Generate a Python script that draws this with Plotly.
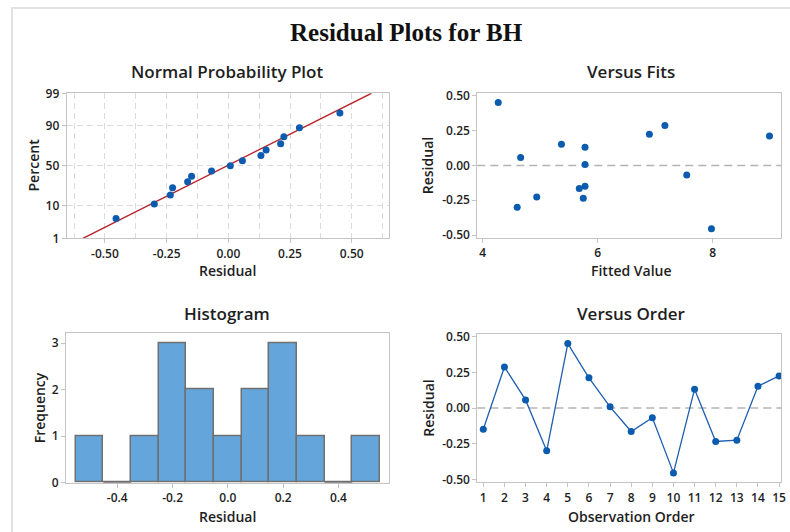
import numpy as np
import plotly.graph_objects as go
from statistics import NormalDist

# ---------------- data ----------------
observation = list(range(1, 16))
residuals = [-0.149, 0.288, 0.057, -0.300, 0.452, 0.212, 0.008, -0.165,
             -0.068, -0.455, 0.132, -0.235, -0.226, 0.153, 0.225]
fitted = [5.78, 7.17, 4.66, 4.60, 4.27, 8.99, 5.78, 5.68,
          7.55, 7.98, 5.78, 5.75, 4.94, 5.37, 6.90]
prob_ticks = [1, 10, 50, 90, 99]
hist_edges = [-0.55, -0.45, -0.35, -0.25, -0.15, -0.05, 0.05, 0.15, 0.25, 0.35, 0.45, 0.55]

# ---------------- derived quantities ----------------
nd = NormalDist()
n = len(residuals)
sorted_res = sorted(residuals)
# Benard median ranks for the normal probability plot
z_pts = [nd.inv_cdf((i + 1 - 0.3) / (n + 0.4)) for i in range(n)]
mu = float(np.mean(residuals))
sd = float(np.std(residuals, ddof=1))
z_lo, z_hi = nd.inv_cdf(0.01), nd.inv_cdf(0.99)
line_z = [z_lo, z_hi]
line_x = [mu + sd * z for z in line_z]
prob_tickvals = [nd.inv_cdf(p / 100) for p in prob_ticks]

counts, _ = np.histogram(residuals, bins=hist_edges)
centers = [(hist_edges[i] + hist_edges[i + 1]) / 2 for i in range(len(counts))]

# ---------------- styling ----------------
W, H = 790, 532
FONT = "Open Sans"
DOT = "#0B5BAE"
BOX = "#C4C4C4"
TXT = "#1E1E1E"

def px_x(a, b):
    return [a / W, b / W]

def px_y(top, bottom):
    return [1 - bottom / H, 1 - top / H]

fig = go.Figure()

# Panel 1: normal probability plot
fig.add_trace(go.Scatter(x=line_x, y=line_z, mode="lines",
                         line=dict(color="#B8232B", width=1.4),
                         xaxis="x", yaxis="y", showlegend=False, hoverinfo="skip"))
fig.add_trace(go.Scatter(x=sorted_res, y=z_pts, mode="markers",
                         marker=dict(color=DOT, size=7),
                         xaxis="x", yaxis="y", showlegend=False))

# Panel 2: versus fits
fig.add_trace(go.Scatter(x=fitted, y=residuals, mode="markers",
                         marker=dict(color=DOT, size=7),
                         xaxis="x2", yaxis="y2", showlegend=False))

# Panel 3: histogram
fig.add_trace(go.Bar(x=centers, y=counts, width=0.1,
                     marker=dict(color="#64A6DB", line=dict(color="#707070", width=1.5)),
                     xaxis="x3", yaxis="y3", showlegend=False))
for i, c in enumerate(counts):
    if c == 0:
        fig.add_trace(go.Scatter(x=[hist_edges[i], hist_edges[i + 1]], y=[0, 0], mode="lines",
                                 line=dict(color="#707070", width=2),
                                 xaxis="x3", yaxis="y3", showlegend=False, hoverinfo="skip"))

# Panel 4: versus order
fig.add_trace(go.Scatter(x=observation, y=residuals, mode="lines+markers",
                         line=dict(color="#1F5EB0", width=1.3),
                         marker=dict(color=DOT, size=7),
                         xaxis="x4", yaxis="y4", showlegend=False))

tickfont = dict(family=FONT, size=12, color=TXT, weight=600)
common = dict(showline=True, linecolor=BOX, linewidth=1, mirror=True,
              ticks="outside", ticklen=4, tickcolor=BOX, tickfont=tickfont,
              zeroline=False, automargin=False)
GRID = dict(showgrid=True, gridcolor="#DCDCDC", griddash="6px,4px", gridwidth=1)
res_ticks = [-0.5, -0.25, 0, 0.25, 0.5]
res_text = ["-0.50", "-0.25", "0.00", "0.25", "0.50"]

fig.update_layout(
    width=W, height=H, autosize=False,
    margin=dict(l=0, r=0, t=0, b=0, pad=0, autoexpand=False),
    paper_bgcolor="white", plot_bgcolor="white", bargap=0, showlegend=False,
    xaxis=dict(domain=px_x(66.7, 389), range=[-0.655, 0.651], anchor="y",
               tickvals=res_ticks, ticktext=res_text,
               minor=dict(dtick=0.125, tick0=0.125, showgrid=True, gridcolor="#DCDCDC",
                          griddash="6px,4px", ticks=""),
               **GRID, **common),
    yaxis=dict(domain=px_y(93.3, 238.3), range=[z_lo, z_hi], anchor="x",
               tickvals=prob_tickvals, ticktext=[str(t) for t in prob_ticks],
               **GRID, **common),
    xaxis2=dict(domain=px_x(477.3, 781), range=[3.906, 9.19], anchor="y2",
                tickvals=[4, 6, 8], showgrid=False, **common),
    yaxis2=dict(domain=px_y(93.3, 237.7), range=[-0.519, 0.519], anchor="x2",
                tickvals=res_ticks, ticktext=res_text, showgrid=False, **common),
    xaxis3=dict(domain=px_x(66, 389), range=[-0.5856, 0.583], anchor="y3",
                tickvals=[-0.4, -0.2, 0, 0.2, 0.4], ticktext=["-0.4", "-0.2", "0.0", "0.2", "0.4"],
                showgrid=False, **common),
    yaxis3=dict(domain=px_y(333.3, 482.7), range=[0, 3.21], anchor="x3",
                tickvals=[0, 1, 2, 3], showgrid=False, **common),
    xaxis4=dict(domain=px_x(477.3, 781), range=[0.716, 15.09], anchor="y4",
                tickvals=observation, showgrid=False, **common),
    yaxis4=dict(domain=px_y(334.3, 482.3), range=[-0.521, 0.517], anchor="x4",
                tickvals=res_ticks, ticktext=res_text, showgrid=False, **common),
)

# zero reference lines
for xa, ya in [("x2", "y2"), ("x4", "y4")]:
    fig.add_shape(type="line", xref=f"{xa} domain", yref=ya, x0=0, x1=1, y0=0, y1=0,
                  line=dict(color="#B4B4B4", width=1.3, dash="8px,5px"), layer="below")

# outer frame
fig.add_shape(type="rect", xref="paper", yref="paper",
              x0=12 / W, x1=1.05, y0=-0.05, y1=1 - 8 / H,
              line=dict(color="#D9D9D9", width=1.5), fillcolor="rgba(0,0,0,0)")

def ann(text, x, y, size, angle=0, family=FONT, weight=600, color=TXT):
    fig.add_annotation(text=text,
                       x=x / W, y=1 - y / H, xref="paper", yref="paper",
                       showarrow=False, textangle=angle,
                       font=dict(family=family, size=size, color=color, weight=weight),
                       xanchor="center", yanchor="middle")

ann("Residual Plots for BH", 406.5, 32, 25, family="Liberation Serif", weight=700, color="#111111")
ann("Normal Probability Plot", 227, 71, 17)
ann("Versus Fits", 631, 71, 17)
ann("Histogram", 227, 313, 17)
ann("Versus Order", 631, 313, 17)
ann("Residual", 227.7, 270, 14)
ann("Fitted Value", 631, 270.5, 14)
ann("Residual", 227.7, 516, 14)
ann("Observation Order", 631, 516, 14)
ann("Percent", 33, 165.5, 14, angle=-90)
ann("Residual", 427.7, 165.5, 14, angle=-90)
ann("Frequency", 39.3, 408, 14, angle=-90)
ann("Residual", 427.7, 408, 14, angle=-90)

fig.write_html("out.html",
               post_script="document.body.style.margin='0';document.body.style.overflow='hidden';")
